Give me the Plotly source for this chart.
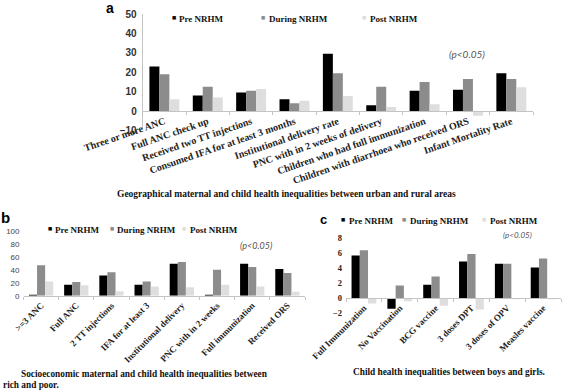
import plotly.graph_objects as go

# ---------------- data ----------------
series = ["Pre NRHM", "During NRHM", "Post NRHM"]
colors = ["#000000", "#8c8c8c", "#dedede"]

cats_a = ["Three or more ANC", "Full ANC check up", "Received two TT injections",
          "Consumed IFA for at least 3 months", "Institutional delivery rate",
          "PNC with in 2 weeks of delivery", "Children who had full immunization",
          "Children with diarrhoea who received ORS", "Infant Mortality Rate"]
pre_a = [23, 8, 9.5, 6, 29.5, 3, 10.5, 11, 19.5]
dur_a = [19, 12.5, 10.5, 4, 19.5, 12.5, 15, 16.5, 16.5]
post_a = [6, 7, 11.3, 5.3, 7.7, 2, 3.5, -2.5, 12.2]

cats_b = [">=3 ANC", "Full ANC", "2 TT injections", "IFA for at least 3",
          "Institutional delivery", "PNC with in 2 weeks", "Full immunization", "Received ORS"]
pre_b = [1, 17, 31, 17, 49, 1, 49, 41]
dur_b = [47, 21, 36, 22, 52, 40, 44, 35]
post_b = [22, 16, 7, 14, 13, 17, 14, 6]

cats_c = ["Full Immunization", "No Vaccination", "BCG vaccine", "3 doses DPT",
          "3 doses of OPV", "Measles vaccine"]
pre_c = [5.7, -1.4, 1.8, 4.9, 4.6, 4.1]
dur_c = [6.4, 1.7, 2.9, 5.9, 4.6, 5.3]
post_c = [-0.7, -0.4, -1.0, -1.5, -0.1, -0.1]

caption_a = "Geographical maternal and child health inequalities between urban and rural areas"
caption_b1 = "Socioeconomic maternal and child health inequalities between"
caption_b2 = "rich and poor."
caption_c = "Child health inequalities between boys and girls."
pnote = "(p<0.05)"

# ---------------- helpers ----------------
W, H = 567, 392
def px(x):
    return x / W
def py(y):
    return 1 - y / H

SERIF = "Liberation Serif, Times New Roman, serif"
SANS = "Liberation Sans, Arial, sans-serif"
PFONT = "Lato, Open Sans, sans-serif"

fig = go.Figure()
panels = [
    (cats_a, [pre_a, dur_a, post_a], "x", "y"),
    (cats_b, [pre_b, dur_b, post_b], "x2", "y2"),
    (cats_c, [pre_c, dur_c, post_c], "x3", "y3"),
]
for cats, vals_list, xa, ya in panels:
    for vals, name, col in zip(vals_list, series, colors):
        fig.add_trace(go.Bar(x=cats, y=vals, name=name, marker_color=col,
                             marker_line_width=0, xaxis=xa, yaxis=ya,
                             showlegend=False, hoverinfo="x+y+name"))

axis_line = "#c4c4c4"
xcommon = dict(showline=True, linecolor=axis_line, linewidth=1, ticks="outside",
               tickson="boundaries", ticklen=3, tickcolor=axis_line,
               showgrid=False, zeroline=False, type="category", automargin=False)
ycommon = dict(showgrid=False, zeroline=False, ticks="", ticklabelstandoff=3,
               automargin=False)

fig.update_layout(
    width=W, height=H, autosize=False,
    margin=dict(l=0, r=0, t=0, b=0, pad=0),
    paper_bgcolor="white", plot_bgcolor="white",
    barmode="group", bargap=0.31, bargroupgap=0,
    xaxis=dict(domain=[px(142.7), px(533)], anchor="free", position=py(111),
               tickangle=-19, tickfont=dict(family=SERIF, size=10, color="#222", weight="bold"),
               **xcommon),
    yaxis=dict(domain=[py(130.4), py(14)], range=[-10, 50], dtick=10, anchor="x",
               showline=True, linecolor=axis_line,
               tickfont=dict(family=SANS, size=10, color="#333", weight="bold"),
               **ycommon),
    xaxis2=dict(domain=[px(23.5), px(305)], anchor="y2",
                tickangle=-45, tickfont=dict(family=SERIF, size=9, color="#222", weight="bold"),
                **xcommon),
    yaxis2=dict(domain=[py(295.7), py(230.7)], range=[0, 100], dtick=20, anchor="x2",
                showline=False, tickfont=dict(family=SANS, size=8, color="#444"),
                **ycommon),
    xaxis3=dict(domain=[px(346), px(561)], anchor="free", position=py(298.3),
                tickangle=-45, tickfont=dict(family=SERIF, size=9, color="#222", weight="bold"),
                **xcommon),
    yaxis3=dict(domain=[py(313.3), py(238.3)], range=[-2, 8], dtick=2, anchor="x3",
                showline=False, tickfont=dict(family=SERIF, size=8.5, color="#222", weight="bold"),
                **ycommon),
)

ann = []
def text_ann(x, y, text, size, family, color="#111", xanchor="center", weight="bold", style="normal"):
    ann.append(dict(x=px(x), y=py(y), xref="paper", yref="paper", text=text,
                    showarrow=False, xanchor=xanchor, yanchor="middle",
                    font=dict(family=family, size=size, color=color, weight=weight, style=style)))

# panel letters
text_ann(110, 8, "a", 14, SANS, "#000")
text_ann(5, 217, "b", 15, SANS, "#000")
text_ann(323, 220, "c", 13, SANS, "#000")

# legends: (marker x, text x), y
legends = [
    ([(174, 177), (263, 267), (364, 368)], 19),
    ([(50, 53), (112, 115), (184, 188)], 230),
    ([(343, 347), (404, 408), (484, 488)], 221),
]
for pos, yy in legends:
    for (mx, tx), name, col in zip(pos, series, colors):
        ann.append(dict(x=px(mx), y=py(yy - 1.5), xref="paper", yref="paper", text="■",
                        showarrow=False, xanchor="center", yanchor="middle",
                        font=dict(family="DejaVu Sans", size=4.5, color=col)))
        text_ann(tx, yy, name, 9, SERIF, "#111", xanchor="left")

# p notes
text_ann(467, 54, pnote, 10, PFONT, "#555", weight="normal", style="italic")
text_ann(256, 245, pnote, 9, PFONT, "#555", weight="normal", style="italic")
text_ann(517, 235, pnote, 8, PFONT, "#555", weight="normal", style="italic")

# captions
text_ann(286, 194, caption_a, 9.5, SERIF, "#111")
text_ann(19, 374, caption_b1, 9.3, SERIF, "#111", xanchor="left")
text_ann(1, 385, caption_b2, 9.3, SERIF, "#111", xanchor="left")
text_ann(449, 372, caption_c, 9.3, SERIF, "#111")

fig.update_layout(annotations=ann)
fig.write_html("out.html", config={"displayModeBar": False},
               post_script="document.body.style.margin='0px';document.body.style.overflow='hidden';")
